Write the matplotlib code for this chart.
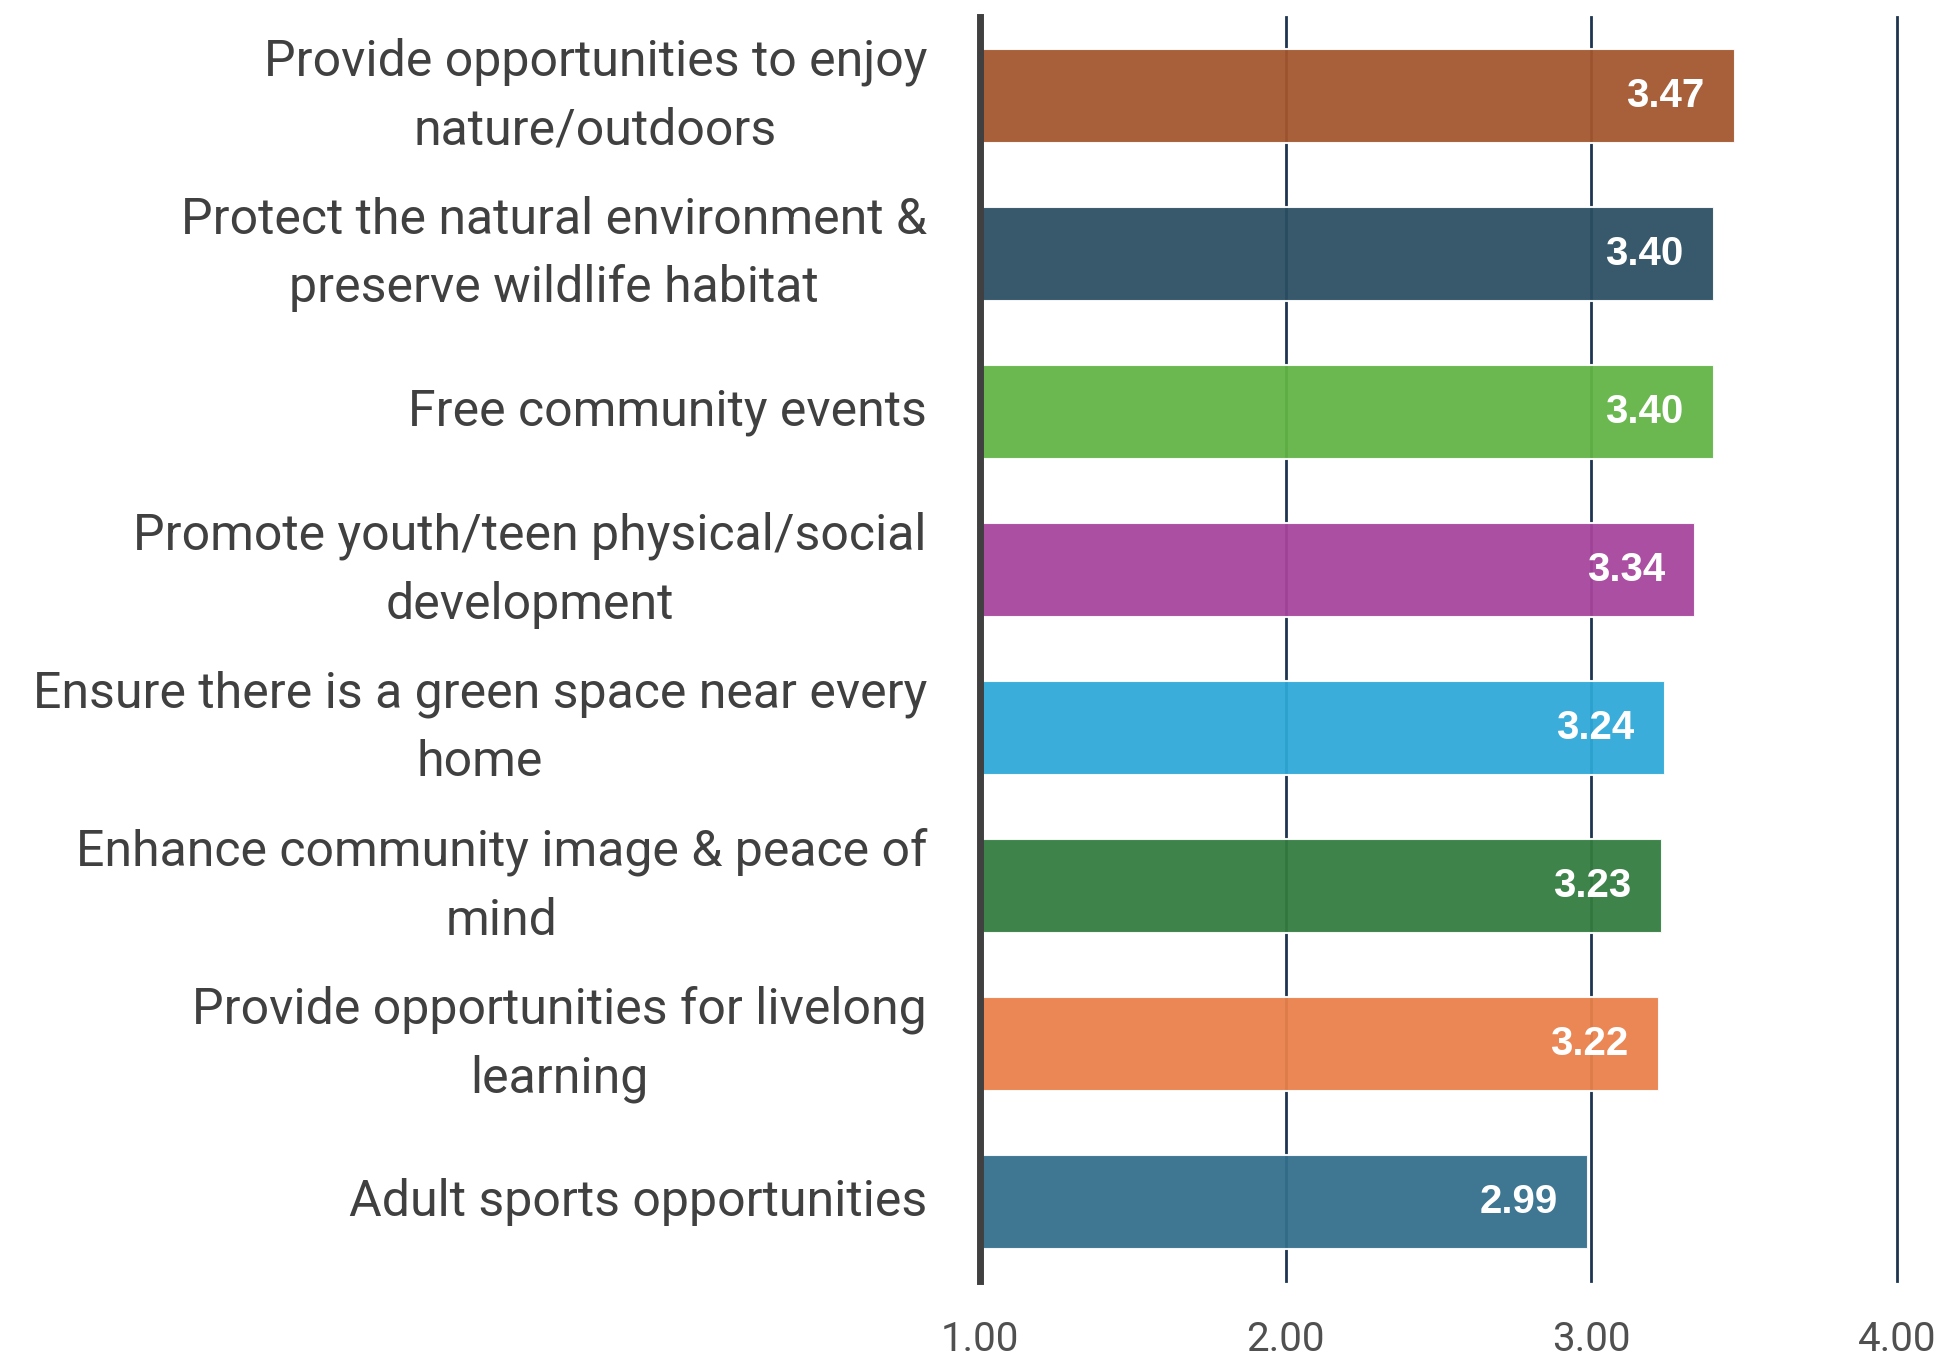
import matplotlib.pyplot as plt

categorias = [
    "Provide opportunities to enjoy\nnature/outdoors",
    "Protect the natural environment &\npreserve wildlife habitat",
    "Free community events",
    "Promote youth/teen physical/social\ndevelopment",
    "Ensure there is a green space near every\nhome",
    "Enhance community image & peace of\nmind",
    "Provide opportunities for livelong\nlearning",
    "Adult sports opportunities",
]
valores = [3.47, 3.40, 3.40, 3.34, 3.24, 3.23, 3.22, 2.99]
colores = ["#A3562D", "#2A4E62", "#62B446", "#A6449C", "#2DA8D8", "#327C3E", "#EA8049", "#336F8C"]
ticks = [1.00, 2.00, 3.00, 4.00]

plt.rcParams['font.family'] = ['Roboto', 'DejaVu Sans']

fig = plt.figure(figsize=(19.44, 13.62), dpi=100)
ax = fig.add_axes([0.504, 0.0595, 0.472, 0.928])

y = list(range(len(categorias)))
ax.barh(y, [v - 1 for v in valores], left=1, height=0.6, color=colores,
        edgecolor="#ffffff", linewidth=1.5, alpha=0.94, zorder=3)

for yi, v in zip(y, valores):
    ax.text(v - 0.1, yi, f"{v:.2f}", ha="right", va="center", color="white",
            fontsize=29, fontweight="bold", family=['Liberation Sans', 'DejaVu Sans'], zorder=4)

ax.set_xlim(1, 4)
ax.set_ylim(len(categorias) - 0.5, -0.5)
ax.set_xticks(ticks)
ax.set_xticklabels([f"{t:.2f}" for t in ticks])
ax.set_yticks(y)
ax.set_yticklabels(categorias, multialignment="center", linespacing=1.55, va="center")

ax.grid(axis="x", color="#1E3550", linewidth=2, zorder=1)
for gl in ax.xaxis.get_gridlines():
    gl.set_clip_on(False)
for s in ["top", "right", "bottom"]:
    ax.spines[s].set_visible(False)
ax.spines["left"].set_linewidth(5)
ax.spines["left"].set_color("#404040")
ax.spines["left"].set_zorder(5)

ax.tick_params(axis="y", length=0, pad=38, labelsize=36, labelcolor="#404040")
ax.tick_params(axis="x", length=0, pad=28, labelsize=29, labelcolor="#505050")

fig.savefig("out.png", dpi=100)
